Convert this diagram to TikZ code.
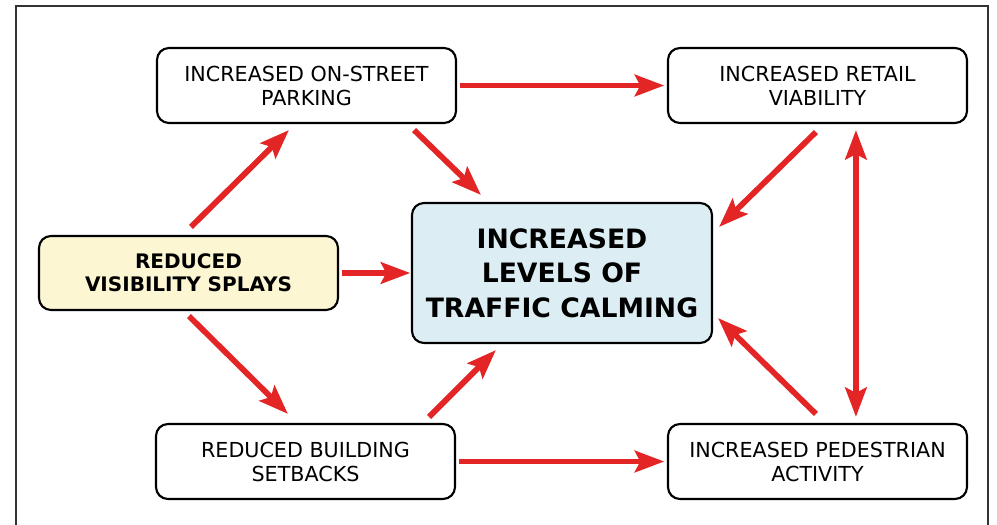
\documentclass[tikz,border=0pt]{standalone}
\usepackage{fontspec}
\setmainfont{DejaVu Sans}
\usetikzlibrary{arrows.meta}
\definecolor{arrred}{HTML}{E32526}
\definecolor{centerblue}{HTML}{DCEEF4}
\definecolor{visyellow}{HTML}{FCF7D2}
\definecolor{framegray}{HTML}{333333}
\tikzset{
  box/.style={draw=black, line width=1.6pt, rounded corners=9pt, fill=white,
    minimum width=224.25pt, minimum height=56.25pt, align=center, inner sep=0pt,
    font=\fontsize{15.5pt}{18pt}\selectfont},
  centerbox/.style={box, fill=centerblue, minimum width=225pt, minimum height=105pt,
    font=\bfseries\fontsize{20pt}{26pt}\selectfont},
  visbox/.style={box, fill=visyellow, minimum height=55.5pt,
    font=\bfseries\fontsize{15pt}{17.5pt}\selectfont},
  conn/.style={draw=arrred, line width=4.3pt,
    -{Stealth[length=22pt,width=16pt,inset=4pt]}},
  dconn/.style={conn, {Stealth[length=22pt,width=16pt,inset=4pt]}-{Stealth[length=22pt,width=16pt,inset=4pt]}},
}
\begin{document}
\begin{tikzpicture}[x=0.75pt,y=-0.75pt]
\useasboundingbox (0,0) rectangle (997,525);
\draw[framegray, line width=1.5pt] (15.5,525) -- (15.5,6) -- (988,6) -- (988,525);

\node[box] (park) at (306.5,85.5) {INCREASED ON-STREET\\PARKING};
\node[box] (retail) at (817.5,85.5) {INCREASED RETAIL\\VIABILITY};
\node[visbox] (vis) at (188.5,273) {REDUCED\\VISIBILITY SPLAYS};
\node[centerbox] (center) at (562,273) {INCREASED\\LEVELS OF\\TRAFFIC CALMING};
\node[box] (setb) at (305.5,461.5) {REDUCED BUILDING\\SETBACKS};
\node[box] (ped) at (817.5,461.5) {INCREASED PEDESTRIAN\\ACTIVITY};

\draw[conn, shorten <=2pt, shorten >=2pt] (park.east) -- (retail.west);
\draw[conn] ([shift={(-43,6)}]park.south east) -- ([shift={(70,-7)}]center.north west);
\draw[conn] ([shift={(149,8)}]retail.south west) -- ([shift={(6,25)}]center.north east);
\draw[dconn] ([shift={(189,6)}]retail.south west) -- ([shift={(189,-6)}]ped.north west);
\draw[conn] ([shift={(153,-8)}]vis.north west) -- ([shift={(133,6)}]park.south west);
\draw[conn, shorten <=2pt, shorten >=0.5pt] (vis.east) -- (center.west);
\draw[conn] ([shift={(151,5)}]vis.south west) -- ([shift={(133,-9)}]setb.north west);
\draw[conn] ([shift={(-27,-6)}]setb.north east) -- ([shift={(85,6)}]center.south west);
\draw[conn, shorten <=2pt, shorten >=2pt] (setb.east) -- (ped.west);
\draw[conn] ([shift={(149,-9)}]ped.north west) -- ([shift={(5,-26)}]center.south east);
\end{tikzpicture}
\end{document}
